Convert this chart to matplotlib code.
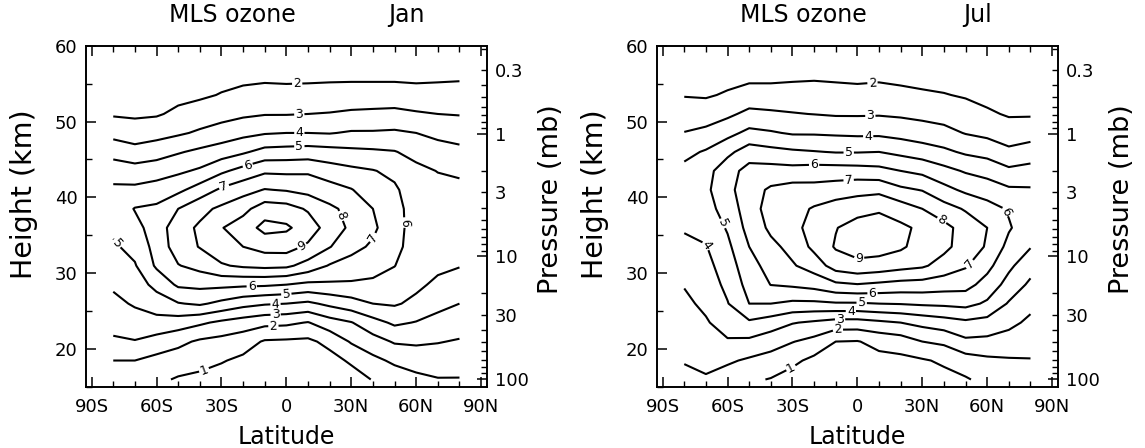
import numpy as np
import matplotlib
matplotlib.use("Agg")
import matplotlib.pyplot as plt
from matplotlib.ticker import MultipleLocator, FixedLocator, FixedFormatter

# grid of the zonal mean ozone fields (ppmv), one list per latitude, bottom -> top
lats = [-80, -70, -60, -50, -40, -30, -20, -10, 0, 10, 20, 30, 40, 50, 60, 70, 80]
heights = [16.0, 18.5, 21.0, 23.5, 26.0, 28.5, 31.0, 33.5, 36.0,
           38.5, 41.0, 43.5, 46.0, 48.5, 51.0, 53.5, 56.0]

jan_o3 = [
    [1.40, 2.00, 2.85, 3.34, 3.75, 4.15, 4.50, 4.86, 5.20, 5.35, 5.20, 4.53, 3.65, 2.67, 1.90, 1.60, 1.35],
    [1.40, 2.00, 2.95, 3.56, 4.11, 4.50, 4.92, 5.31, 5.70, 6.05, 5.22, 4.41, 3.36, 2.47, 1.85, 1.60, 1.40],
    [1.20, 1.70, 2.62, 3.65, 4.50, 5.30, 6.15, 6.35, 6.45, 6.20, 5.42, 4.56, 3.57, 2.64, 1.90, 1.65, 1.40],
    [0.90, 1.51, 2.25, 3.50, 4.94, 6.16, 6.95, 7.50, 7.60, 7.00, 5.77, 4.82, 3.91, 2.86, 2.20, 1.75, 1.50],
    [0.75, 1.34, 1.85, 3.17, 5.14, 6.25, 7.33, 8.05, 8.15, 7.71, 6.44, 5.15, 4.21, 3.14, 2.45, 1.85, 1.55],
    [0.60, 1.07, 1.68, 2.80, 4.75, 6.24, 7.90, 8.60, 8.95, 8.20, 7.17, 5.81, 4.50, 3.43, 2.64, 2.05, 1.70],
    [0.50, 0.80, 1.43, 2.53, 4.33, 6.18, 8.15, 9.00, 9.50, 8.70, 7.63, 6.35, 4.86, 3.72, 2.83, 2.25, 1.75],
    [0.40, 0.65, 0.90, 2.27, 4.10, 6.14, 8.26, 9.35, 10.30, 9.53, 8.05, 6.83, 5.33, 3.92, 2.95, 2.35, 1.80],
    [0.35, 0.60, 0.85, 2.20, 4.00, 6.00, 8.20, 9.40, 10.15, 9.41, 7.92, 6.80, 5.39, 4.00, 2.95, 2.35, 1.75],
    [0.35, 0.55, 0.80, 1.95, 3.80, 5.77, 7.62, 8.83, 9.55, 8.88, 7.69, 6.85, 5.45, 4.00, 3.00, 2.40, 1.75],
    [0.40, 0.65, 1.28, 2.57, 4.23, 5.83, 6.92, 8.05, 8.55, 8.20, 7.40, 6.48, 5.35, 3.95, 3.05, 2.40, 1.80],
    [0.55, 1.15, 2.10, 2.95, 4.60, 5.85, 6.63, 7.30, 7.80, 7.70, 7.05, 6.23, 5.22, 4.10, 3.15, 2.45, 1.80],
    [1.05, 1.75, 2.60, 3.65, 5.00, 5.80, 6.37, 6.85, 7.20, 7.00, 6.50, 6.05, 5.15, 4.10, 3.20, 2.45, 1.80],
    [1.45, 2.18, 3.10, 4.17, 5.11, 5.60, 6.02, 6.25, 6.30, 6.30, 6.15, 5.77, 5.05, 4.15, 3.25, 2.45, 1.80],
    [1.75, 2.43, 3.15, 3.95, 4.77, 5.20, 5.45, 5.60, 5.65, 5.60, 5.45, 5.25, 4.69, 4.00, 3.10, 2.40, 1.75],
    [1.95, 2.49, 3.05, 3.69, 4.27, 4.80, 5.20, 5.40, 5.45, 5.45, 5.30, 4.97, 4.40, 3.76, 3.00, 2.40, 1.80],
    [1.95, 2.45, 2.92, 3.46, 4.00, 4.50, 5.05, 5.30, 5.40, 5.35, 5.20, 4.87, 4.25, 3.60, 2.95, 2.40, 1.85],
]

jul_o3 = [
    [1.70, 2.07, 2.31, 2.55, 2.80, 3.05, 3.39, 3.75, 4.10, 4.30, 4.35, 4.25, 3.74, 3.03, 2.48, 1.95, 1.60],
    [1.90, 2.25, 2.57, 2.90, 3.20, 3.45, 3.70, 3.95, 4.30, 4.65, 4.80, 4.65, 4.10, 3.25, 2.50, 1.90, 1.55],
    [1.50, 2.15, 2.90, 3.45, 3.95, 4.25, 4.50, 4.78, 5.10, 5.40, 5.70, 5.60, 4.75, 3.70, 2.80, 2.10, 1.70],
    [1.15, 1.85, 2.80, 3.85, 5.00, 5.35, 5.65, 6.00, 6.35, 6.55, 6.60, 6.35, 5.50, 4.25, 3.25, 2.40, 1.75],
    [0.95, 1.62, 2.42, 3.52, 5.00, 6.02, 6.35, 6.75, 7.20, 7.40, 7.15, 6.40, 5.30, 4.10, 3.15, 2.40, 1.75],
    [0.60, 1.22, 2.04, 3.06, 4.80, 6.15, 6.90, 7.30, 7.55, 7.65, 7.40, 6.35, 5.15, 3.90, 3.05, 2.45, 1.80],
    [0.45, 0.75, 1.70, 2.85, 4.80, 6.35, 7.45, 8.25, 8.55, 8.10, 7.35, 6.45, 5.05, 3.90, 2.98, 2.45, 1.85],
    [0.40, 0.60, 1.00, 2.60, 4.90, 6.80, 8.45, 9.10, 8.95, 8.45, 7.50, 6.45, 4.95, 3.85, 2.90, 2.40, 1.80],
    [0.35, 0.60, 0.95, 2.60, 4.90, 6.95, 8.75, 9.40, 9.45, 8.60, 7.70, 6.40, 4.95, 3.80, 2.90, 2.35, 1.75],
    [0.35, 0.70, 1.30, 2.80, 5.00, 6.80, 8.60, 9.40, 9.55, 8.85, 7.75, 6.30, 5.00, 3.80, 2.92, 2.40, 1.80],
    [0.40, 0.75, 1.50, 3.00, 5.05, 6.65, 8.35, 9.15, 9.20, 8.50, 7.20, 6.00, 4.75, 3.65, 2.85, 2.30, 1.70],
    [0.50, 0.90, 2.00, 3.30, 5.15, 6.60, 8.15, 8.60, 8.80, 8.00, 6.95, 5.75, 4.50, 3.45, 2.75, 2.15, 1.65],
    [0.70, 1.15, 2.20, 3.55, 5.20, 6.45, 7.60, 8.25, 8.30, 7.40, 6.30, 5.30, 4.20, 3.30, 2.60, 2.05, 1.60],
    [0.90, 1.55, 2.80, 3.80, 5.30, 6.35, 7.10, 7.55, 7.60, 6.90, 5.80, 4.90, 3.85, 2.95, 2.45, 1.90, 1.55],
    [1.30, 1.80, 2.75, 3.65, 4.85, 5.60, 6.30, 6.90, 7.00, 6.40, 5.50, 4.65, 3.65, 2.75, 2.15, 1.70, 1.40],
    [1.30, 1.90, 2.60, 3.25, 3.90, 4.65, 5.20, 5.70, 6.10, 5.90, 5.15, 4.20, 3.20, 2.50, 1.90, 1.55, 1.30],
    [1.40, 1.95, 2.40, 2.80, 3.25, 3.80, 4.40, 5.05, 5.40, 5.45, 5.10, 4.35, 3.45, 2.60, 1.90, 1.55, 1.30],
]

levels = [1, 2, 3, 4, 5, 6, 7, 8, 9, 10]
lat_ticks = [-90, -60, -30, 0, 30, 60, 90]
lat_labels = ['90S', '60S', '30S', '0', '30N', '60N', '90N']
height_ticks = [20, 30, 40, 50, 60]
p_major = [1, 10, 100]
p_minor = [0.2, 0.3, 0.4, 0.5, 0.6, 0.7, 0.8, 0.9,
           2, 3, 4, 5, 6, 7, 8, 9,
           20, 30, 40, 50, 60, 70, 80, 90]
p_minor_labelled = [0.3, 3, 30]

# where the contour labels sit (lat, km)
jan_label_pos = [(5, 55.0), (6, 50.8), (6, 48.5), (6, 46.7), (-18, 44.4), (-29, 41.6),
                 (23, 37.3), (8, 33.2), (40, 34.7), (56, 36.7), (-78, 34.0),
                 (-16, 28.2), (0, 27.1), (-5, 25.8), (-5, 24.9), (-6, 23.1), (-38, 17.2)]
jul_label_pos = [(7, 55.0), (6, 50.6), (5, 47.9), (-4, 45.9), (-20, 44.3), (-4, 42.1),
                 (40, 37.5), (1, 31.4), (54, 30.7), (69, 38.2), (-62, 36.6), (-69, 33.8),
                 (7, 27.2), (2, 26.2), (-3, 25.1), (-8, 24.1), (-9, 22.7), (-31, 17.7)]

H = 7.0  # scale height, km


def p_to_z(p):
    return H * np.log(1000.0 / np.asarray(p, dtype=float))


plt.rcParams['font.family'] = ['DejaVu Sans']

fig = plt.figure(figsize=(11.45, 4.48), dpi=100)


def draw_panel(left, o3, month, label_pos):
    ax = fig.add_axes([left, 0.136, 0.350, 0.762])
    field = np.array(o3).T
    cs = ax.contour(lats, heights, field, levels=levels, colors='black', linewidths=1.5)
    ax.clabel(cs, fmt='%d', fontsize=9, inline=True, inline_spacing=2, manual=label_pos)

    ax.set_xlim(-92.6, 92.6)
    ax.set_ylim(15, 60)
    ax.set_xticks(lat_ticks)
    ax.set_xticklabels(lat_labels)
    ax.xaxis.set_minor_locator(MultipleLocator(10))
    ax.set_yticks(height_ticks)
    ax.yaxis.set_minor_locator(MultipleLocator(5))
    ax.tick_params(which='both', direction='in', top=True, right=False, labelsize=13)
    ax.tick_params(which='major', length=7, width=1.1)
    ax.tick_params(which='minor', length=4, width=1.0)
    ax.tick_params(axis='x', pad=8)
    ax.tick_params(axis='y', pad=6)
    for s in ax.spines.values():
        s.set_linewidth(1.2)

    ax2 = ax.twinx()
    ax2.set_ylim(15, 60)
    ax2.yaxis.set_major_locator(FixedLocator(p_to_z(p_major)))
    ax2.yaxis.set_major_formatter(FixedFormatter([str(p) for p in p_major]))
    ax2.yaxis.set_minor_locator(FixedLocator(p_to_z(p_minor)))
    ax2.yaxis.set_minor_formatter(FixedFormatter(
        [('%g' % p) if p in p_minor_labelled else '' for p in p_minor]))
    ax2.tick_params(which='both', direction='in', labelsize=13, pad=6)
    ax2.tick_params(which='major', length=7, width=1.1)
    ax2.tick_params(which='minor', length=4, width=1.0)
    for s in ax2.spines.values():
        s.set_linewidth(1.2)

    ax.text(0.365, 1.09, 'MLS ozone', transform=ax.transAxes, ha='center', va='center', fontsize=17)
    ax.text(0.80, 1.09, month, transform=ax.transAxes, ha='center', va='center', fontsize=17)
    ax.text(0.5, -0.147, 'Latitude', transform=ax.transAxes, ha='center', va='center', fontsize=17)
    ax.text(-0.155, 0.565, 'Height (km)', transform=ax.transAxes, ha='center', va='center',
            rotation=90, fontsize=20.5)
    ax.text(1.16, 0.55, 'Pressure (mb)', transform=ax.transAxes, ha='center', va='center',
            rotation=90, fontsize=19.5)
    return ax


draw_panel(0.0751, jan_o3, 'Jan', jan_label_pos)
draw_panel(0.5738, jul_o3, 'Jul', jul_label_pos)

fig.savefig('out.png', dpi=100)
